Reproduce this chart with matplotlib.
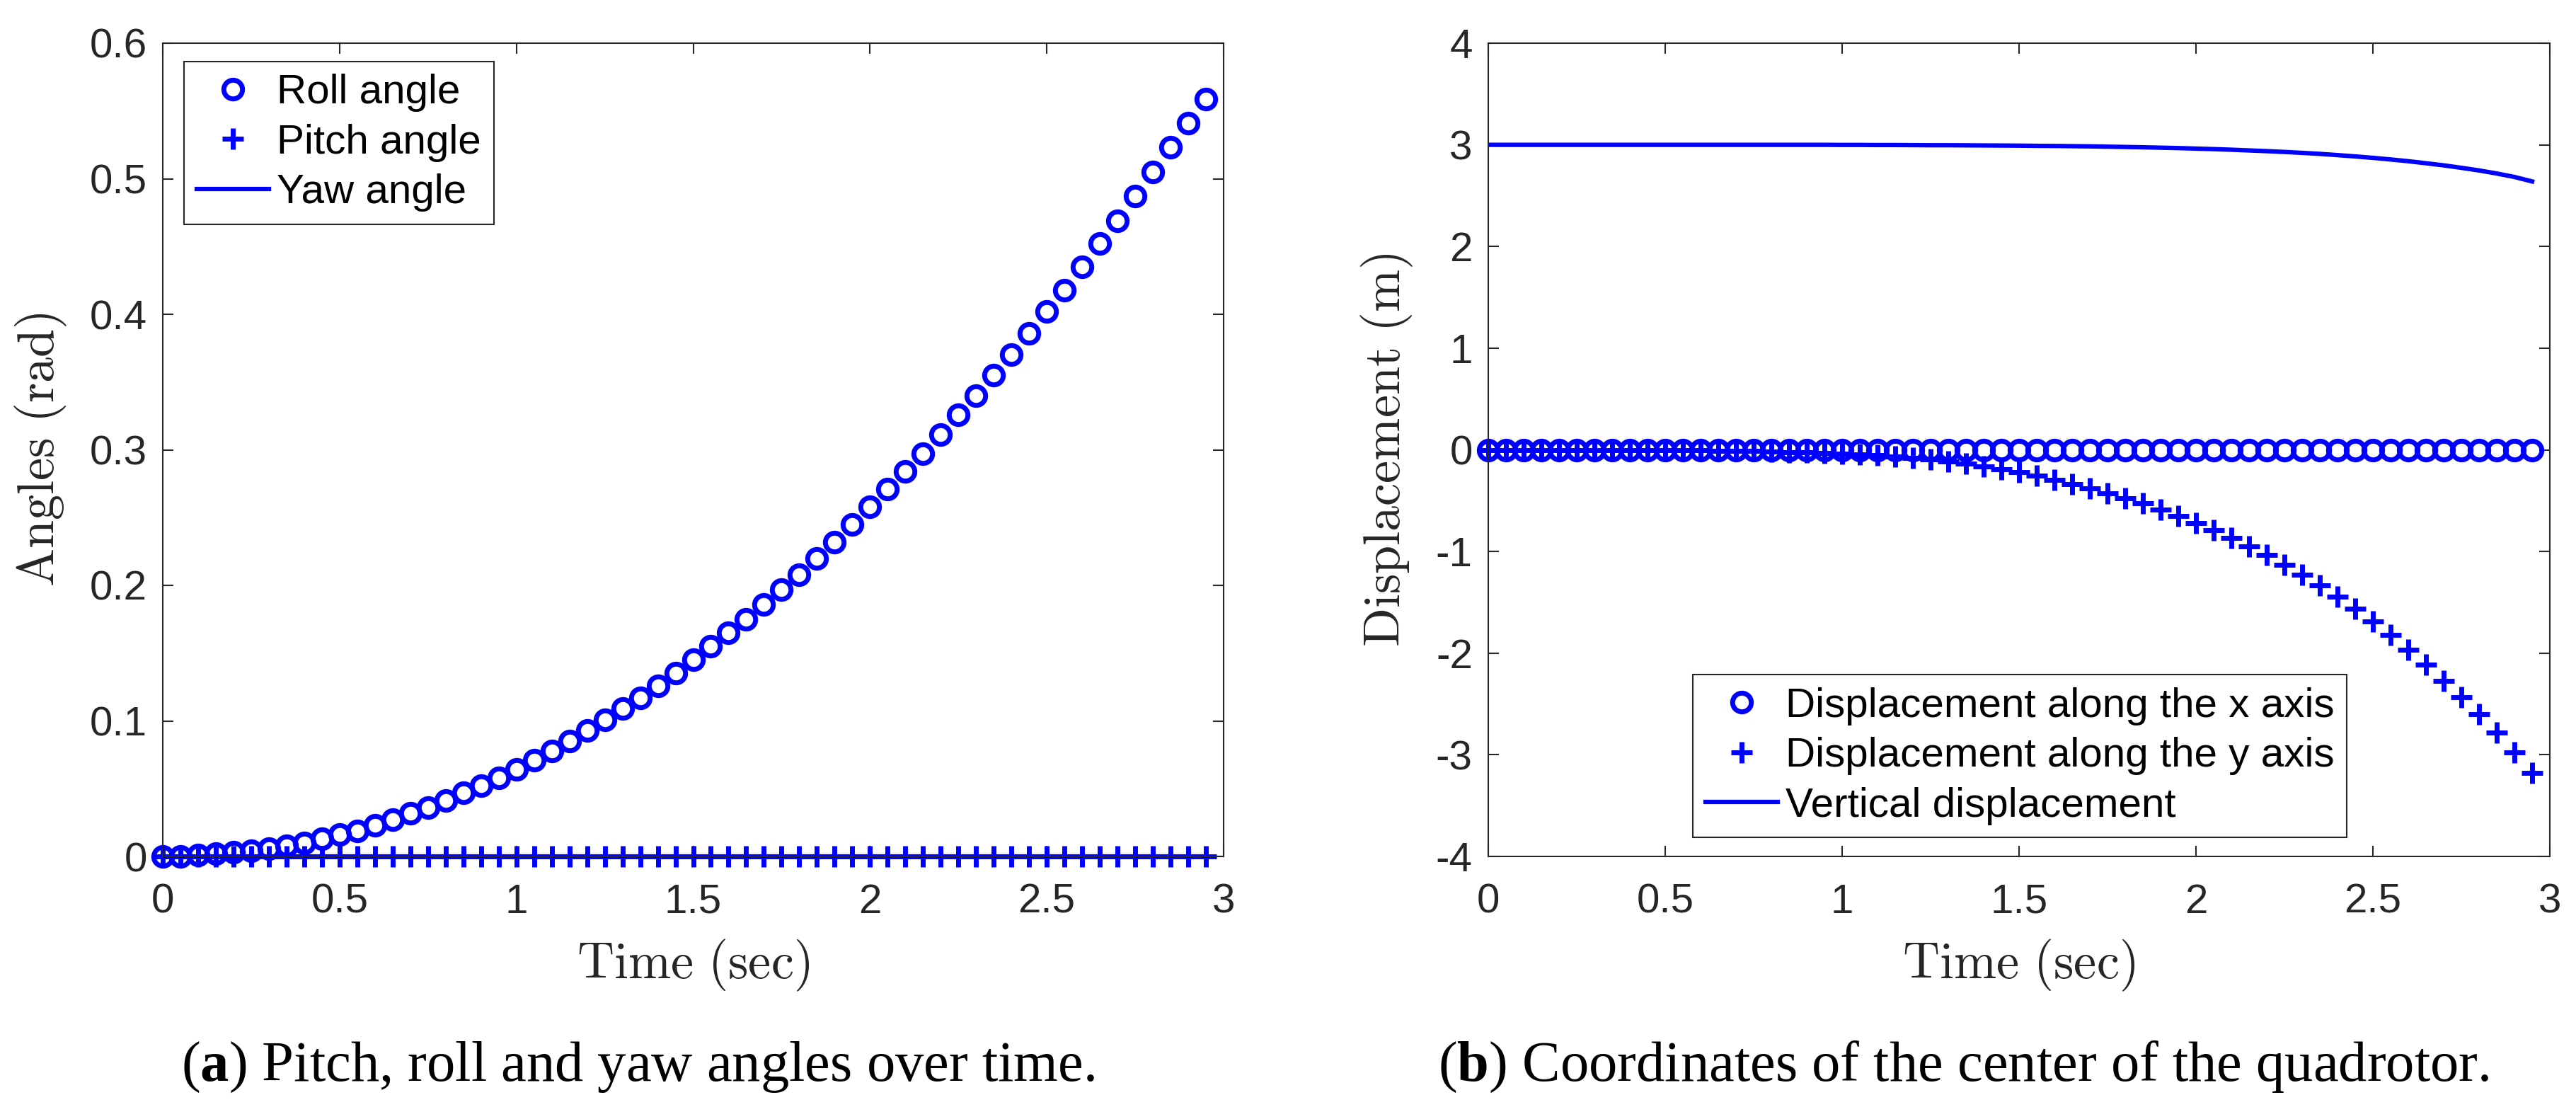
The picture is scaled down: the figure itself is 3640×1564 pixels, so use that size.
import matplotlib
matplotlib.use("Agg")
import matplotlib.pyplot as plt
from matplotlib.ticker import FuncFormatter

plt.rcParams["axes.unicode_minus"] = False
plt.rcParams["mathtext.fontset"] = "custom"
plt.rcParams["mathtext.rm"] = "Liberation Serif"
plt.rcParams["mathtext.bf"] = "Liberation Serif:bold"

W, H = 3640, 1564
BLUE = "#0000ff"
DARK = "#262626"
TICKSIZE = 42
LABELSIZE = 52
CAPSIZE = 58

# time samples (sec)
time = [0.00, 0.05, 0.10, 0.15, 0.20, 0.25, 0.30, 0.35, 0.40, 0.45,
        0.50, 0.55, 0.60, 0.65, 0.70, 0.75, 0.80, 0.85, 0.90, 0.95,
        1.00, 1.05, 1.10, 1.15, 1.20, 1.25, 1.30, 1.35, 1.40, 1.45,
        1.50, 1.55, 1.60, 1.65, 1.70, 1.75, 1.80, 1.85, 1.90, 1.95,
        2.00, 2.05, 2.10, 2.15, 2.20, 2.25, 2.30, 2.35, 2.40, 2.45,
        2.50, 2.55, 2.60, 2.65, 2.70, 2.75, 2.80, 2.85, 2.90, 2.95]

# (a) angles (rad)
roll = [0.000, 0.000, 0.001, 0.002, 0.003, 0.004, 0.006, 0.008, 0.010, 0.013,
        0.016, 0.019, 0.023, 0.027, 0.032, 0.036, 0.041, 0.047, 0.052, 0.058,
        0.064, 0.071, 0.078, 0.085, 0.093, 0.101, 0.109, 0.117, 0.126, 0.135,
        0.145, 0.155, 0.165, 0.175, 0.186, 0.197, 0.208, 0.220, 0.232, 0.245,
        0.258, 0.271, 0.284, 0.297, 0.311, 0.326, 0.340, 0.355, 0.370, 0.386,
        0.402, 0.418, 0.435, 0.452, 0.469, 0.487, 0.505, 0.523, 0.541, 0.559]
pitch = [0.0] * 60
yaw = [0.0] * 60

# (b) displacement (m)
disp_x = [0.0] * 60
disp_y = [0.000, 0.000, 0.000, 0.000, 0.000, 0.000, 0.000, -0.001, -0.001, -0.002,
          -0.003, -0.004, -0.005, -0.007, -0.010, -0.013, -0.017, -0.022, -0.027, -0.032,
          -0.038, -0.045, -0.055, -0.066, -0.080, -0.096, -0.115, -0.137, -0.162, -0.190,
          -0.220, -0.255, -0.293, -0.335, -0.378, -0.425, -0.475, -0.528, -0.585, -0.650,
          -0.718, -0.790, -0.868, -0.948, -1.035, -1.128, -1.228, -1.333, -1.443, -1.562,
          -1.688, -1.820, -1.965, -2.110, -2.270, -2.430, -2.600, -2.780, -2.975, -3.180]
disp_z = [3.000, 3.000, 3.000, 3.000, 3.000, 3.000, 3.000, 3.000, 3.000, 3.000,
          3.000, 3.000, 3.000, 3.000, 3.000, 3.000, 3.000, 3.000, 3.000, 3.000,
          2.999, 2.999, 2.998, 2.998, 2.997, 2.996, 2.996, 2.995, 2.994, 2.993,
          2.992, 2.990, 2.989, 2.987, 2.985, 2.982, 2.979, 2.976, 2.972, 2.968,
          2.963, 2.958, 2.952, 2.945, 2.938, 2.930, 2.921, 2.911, 2.899, 2.886,
          2.872, 2.856, 2.839, 2.819, 2.798, 2.774, 2.748, 2.718, 2.684, 2.640]

x_ticks = [0, 0.5, 1, 1.5, 2, 2.5, 3]
angle_ticks = [0, 0.1, 0.2, 0.3, 0.4, 0.5, 0.6]
disp_ticks = [-4, -3, -2, -1, 0, 1, 2, 3, 4]

fig = plt.figure(figsize=(W / 100, H / 100), dpi=100)
ax1 = fig.add_axes([230 / W, (H - 1210) / H, 1499 / W, 1149 / H])
ax2 = fig.add_axes([2103 / W, (H - 1210) / H, 1500 / W, 1149 / H])

circ = dict(marker="o", ls="none", ms=19, mew=5, mfc="none", mec=BLUE, clip_on=False)
plus = dict(marker="+", ls="none", ms=22, mew=5, color=BLUE, clip_on=False)

ax1.plot(time, roll, label="Roll angle", **circ)
ax1.plot(time, pitch, label="Pitch angle", **plus)
ax1.plot(time, yaw, color=BLUE, lw=4.5, label="Yaw angle")

ax2.plot(time, disp_x, label="Displacement along the x axis", **circ)
ax2.plot(time, disp_y, label="Displacement along the y axis", **plus)
ax2.plot(time, disp_z, color=BLUE, lw=4.5, label="Vertical displacement")

fmt = FuncFormatter(lambda v, p: "%g" % v)
for ax in (ax1, ax2):
    ax.set_xlim(0, 3)
    ax.set_xticks(x_ticks)
    ax.xaxis.set_major_formatter(fmt)
    ax.yaxis.set_major_formatter(fmt)
    ax.tick_params(direction="in", length=11, width=1.5, top=True, right=True,
                   color=DARK, labelcolor=DARK, labelsize=TICKSIZE)
    ax.tick_params(axis="x", pad=27)
    ax.tick_params(axis="y", pad=16)
    for lab in ax.get_xticklabels() + ax.get_yticklabels():
        lab.set_family("Liberation Sans")
    for s in ax.spines.values():
        s.set_color(DARK)
        s.set_linewidth(1.5)
    ax.set_xlabel(r"$\mathrm{Time\ (sec)}$", fontsize=LABELSIZE, color=DARK,
                  math_fontfamily="cm", va="top")
    ax.xaxis.set_label_coords(0.5, -0.1)

ax1.set_ylim(0, 0.6)
ax1.set_yticks(angle_ticks)
ax2.set_ylim(-4, 4)
ax2.set_yticks(disp_ticks)

ax1.set_ylabel(r"$\mathrm{Angles\ (rad)}$", fontsize=LABELSIZE, color=DARK,
               math_fontfamily="cm", va="center")
ax1.yaxis.set_label_coords((58 - 230) / 1499, 0.5)
ax2.set_ylabel(r"$\mathrm{Displacement\ (m)}$", fontsize=LABELSIZE, color=DARK,
               math_fontfamily="cm", va="center")
ax2.yaxis.set_label_coords((1960 - 2103) / 1500, 0.5)

leg_style = dict(prop={"family": "Liberation Sans", "size": TICKSIZE}, numpoints=1,
                 fancybox=False, framealpha=1, edgecolor=DARK, borderaxespad=0,
                 borderpad=0.3, handlelength=1.75, handletextpad=0.2, labelspacing=0.28)
l1 = ax1.legend(loc="upper left", bbox_to_anchor=((260 - 230) / 1499, (1210 - 87) / 1149),
                **leg_style)
l2 = ax2.legend(loc="lower left", bbox_to_anchor=((2392 - 2103) / 1500, (1210 - 1183) / 1149),
                **leg_style)
for lg in (l1, l2):
    lg.get_frame().set_linewidth(1.5)

fig.text(901 / W, 1 - 1527 / H, r"($\mathbf{a}$) Pitch, roll and yaw angles over time.",
         ha="center", va="baseline", fontsize=CAPSIZE, family="Liberation Serif")
fig.text(2775 / W, 1 - 1527 / H, r"($\mathbf{b}$) Coordinates of the center of the quadrotor.",
         ha="center", va="baseline", fontsize=CAPSIZE, family="Liberation Serif")

fig.savefig("out.png", dpi=100, facecolor="white")
